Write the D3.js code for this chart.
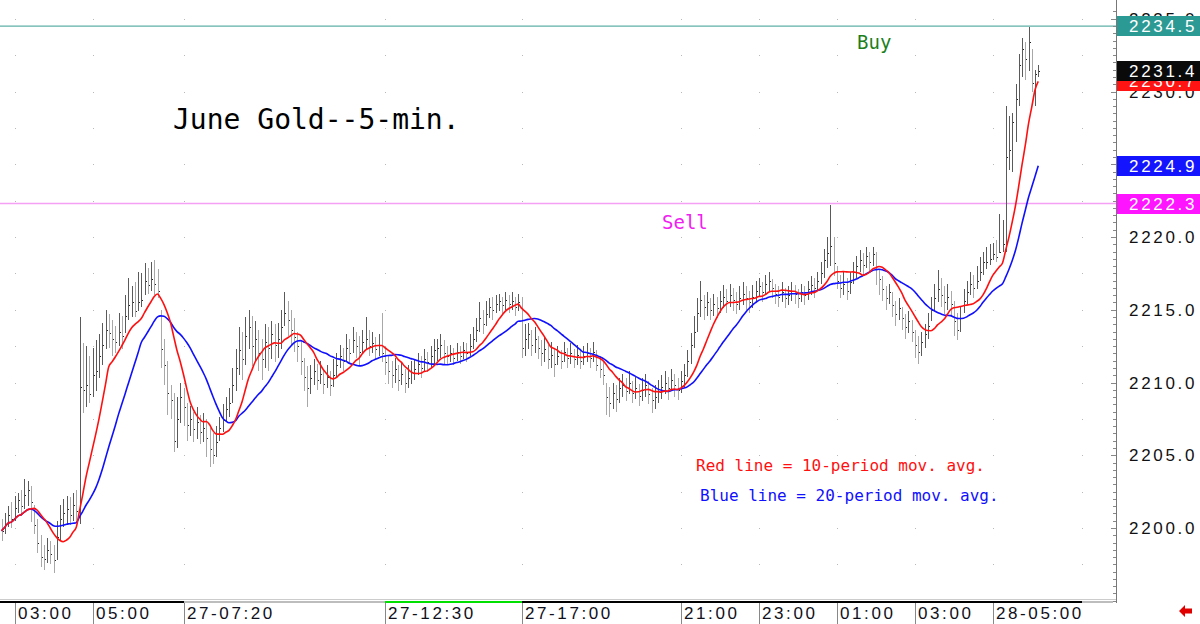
<!DOCTYPE html>
<html>
<head>
<meta charset="utf-8">
<script src="https://cdn.jsdelivr.net/npm/d3@7"></script>
<style>
  html, body { margin: 0; padding: 0; background: #fff; }
  svg { display: block; }
</style>
</head>
<body>
<svg id="chart" width="1200" height="624"></svg>
<script>
'use strict';

// 5-min bars, one row of ten bars per line
const highs = [
  2200.6, 2201.0, 2201.5, 2201.8, 2202.2, 2202.4, 2202.6, 2203.4, 2203.2, 2202.9,
  2201.6, 2200.6, 2199.5, 2198.8, 2199.3, 2199.1, 2198.8, 2200.5, 2201.6, 2202.0,
  2202.2, 2202.1, 2202.4, 2202.6, 2214.5, 2212.7, 2212.5, 2211.8, 2212.4, 2212.9,
  2213.3, 2214.1, 2215.0, 2214.7, 2214.3, 2213.9, 2214.8, 2214.6, 2216.0, 2217.2,
  2216.6, 2216.9, 2217.6, 2217.5, 2218.2, 2217.9, 2218.3, 2218.4, 2217.8, 2215.0,
  2213.0, 2211.5, 2209.8, 2209.3, 2209.0, 2210.0, 2209.6, 2208.6, 2208.4, 2208.0,
  2208.3, 2207.8, 2207.9, 2207.5, 2206.9, 2206.5, 2207.0, 2207.6, 2208.5, 2209.0,
  2209.6, 2211.0, 2212.3, 2213.8, 2213.5, 2214.5, 2215.0, 2214.6, 2214.2, 2213.6,
  2213.0, 2214.0, 2213.8, 2214.2, 2214.0, 2214.1, 2215.0, 2216.2, 2215.6, 2215.0,
  2214.4, 2213.5, 2212.8, 2211.7, 2211.1, 2211.2, 2211.6, 2211.3, 2211.5, 2210.9,
  2211.2, 2210.8, 2211.6, 2212.0, 2212.6, 2212.4, 2213.3, 2213.0, 2213.8, 2213.5,
  2213.2, 2213.6, 2214.5, 2213.6, 2213.5, 2213.1, 2213.3, 2214.8, 2212.3, 2211.8,
  2211.5, 2211.7, 2211.2, 2211.4, 2210.9, 2211.2, 2211.5, 2211.6, 2212.0, 2211.8,
  2212.3, 2212.1, 2212.5, 2213.0, 2213.0, 2213.3, 2212.9, 2212.5, 2212.6, 2212.4,
  2212.7, 2212.5, 2212.8, 2212.7, 2213.3, 2213.8, 2214.4, 2215.5, 2215.0, 2215.6,
  2215.8, 2215.9, 2216.0, 2216.1, 2215.9, 2216.2, 2216.0, 2216.2, 2215.9, 2216.1,
  2215.9, 2214.0, 2214.1, 2213.6, 2213.8, 2213.2, 2212.9, 2213.2, 2212.6, 2212.8,
  2212.3, 2212.5, 2212.2, 2212.8, 2212.4, 2212.7, 2212.3, 2212.6, 2212.2, 2212.5,
  2212.7, 2212.4, 2212.8, 2212.2, 2211.8, 2211.4, 2210.0, 2209.7, 2210.0, 2209.8,
  2210.3, 2210.6, 2210.3, 2210.8, 2210.1, 2210.4, 2209.9, 2210.3, 2210.6, 2210.1,
  2209.6, 2209.8, 2210.2, 2210.5, 2210.8, 2210.4, 2210.9, 2210.6, 2210.3, 2210.8,
  2211.3, 2212.2, 2213.4, 2214.6, 2215.8, 2217.0, 2216.0, 2216.2, 2215.8, 2216.1,
  2215.9, 2216.3, 2216.7, 2216.4, 2216.8, 2216.5, 2216.2, 2216.6, 2216.9, 2216.6,
  2216.3, 2216.7, 2217.0, 2217.2, 2216.9, 2217.4, 2217.6, 2217.1, 2216.8, 2216.6,
  2216.9, 2216.5, 2216.6, 2216.9, 2216.7, 2216.4, 2216.8, 2216.6, 2217.0, 2217.3,
  2217.2, 2217.6, 2218.3, 2219.2, 2220.0, 2222.2, 2220.0, 2218.0, 2217.4, 2217.6,
  2217.2, 2217.6, 2218.3, 2218.7, 2219.1, 2218.9, 2219.3, 2219.0, 2219.3, 2219.0,
  2217.8, 2217.3, 2216.6, 2216.8, 2216.2, 2215.6, 2215.8, 2215.2, 2214.7, 2214.9,
  2214.3, 2213.6, 2213.2, 2213.5, 2214.0, 2214.8, 2215.9, 2216.8, 2217.7, 2217.2,
  2216.6, 2216.8, 2216.3, 2215.6, 2214.8, 2215.2, 2216.4, 2217.0, 2217.6, 2217.4,
  2218.0, 2218.6, 2219.0, 2219.3, 2219.5, 2219.6, 2219.8, 2221.6, 2221.2, 2229.0,
  2228.3, 2228.5, 2230.5, 2232.6, 2233.7, 2233.4, 2234.4, 2232.9, 2231.5, 2231.8
];
const lows = [
  2199.1, 2199.6, 2200.1, 2200.0, 2200.5, 2201.0, 2200.8, 2201.3, 2201.5, 2200.4,
  2199.6, 2198.3, 2197.3, 2197.1, 2197.6, 2197.5, 2196.9, 2197.8, 2199.2, 2200.1,
  2200.3, 2200.2, 2200.5, 2200.4, 2200.3, 2207.9, 2208.3, 2208.6, 2209.0, 2209.4,
  2210.3, 2211.2, 2212.3, 2212.4, 2211.8, 2212.0, 2212.5, 2212.3, 2213.4, 2214.3,
  2214.5, 2214.5, 2214.9, 2215.2, 2216.0, 2216.1, 2216.3, 2216.0, 2215.8, 2211.0,
  2209.8, 2207.8, 2207.5, 2205.2, 2205.5, 2207.2, 2207.0, 2206.0, 2206.3, 2205.9,
  2206.1, 2205.8, 2205.9, 2204.9, 2204.2, 2204.4, 2204.9, 2206.0, 2206.6, 2207.3,
  2207.6, 2208.6, 2209.4, 2210.5, 2210.2, 2211.2, 2212.3, 2211.1, 2211.5, 2210.8,
  2210.2, 2211.0, 2210.8, 2211.6, 2211.4, 2211.7, 2212.3, 2213.9, 2213.2, 2212.6,
  2212.1, 2211.4, 2210.5, 2209.4, 2208.3, 2209.2, 2209.8, 2209.5, 2209.9, 2209.2,
  2209.6, 2209.1, 2209.7, 2210.3, 2211.0, 2210.8, 2211.5, 2211.3, 2212.0, 2211.7,
  2211.2, 2212.0, 2212.2, 2211.8, 2212.0, 2211.6, 2211.8, 2211.4, 2210.5, 2209.9,
  2209.6, 2210.0, 2209.4, 2209.8, 2209.3, 2209.6, 2209.9, 2210.2, 2210.5, 2210.3,
  2210.8, 2210.7, 2211.0, 2211.3, 2211.5, 2211.7, 2211.3, 2211.2, 2211.4, 2211.2,
  2211.5, 2211.3, 2211.6, 2211.4, 2211.8, 2212.3, 2212.8, 2213.5, 2213.3, 2213.9,
  2214.4, 2214.3, 2214.8, 2214.9, 2214.7, 2215.0, 2214.8, 2215.0, 2214.6, 2214.9,
  2211.7, 2211.8, 2212.3, 2211.8, 2212.0, 2211.6, 2211.1, 2211.4, 2210.9, 2211.0,
  2210.4, 2211.2, 2210.9, 2211.4, 2211.0, 2211.3, 2211.0, 2211.2, 2210.9, 2211.2,
  2211.4, 2211.0, 2211.4, 2210.8, 2210.3, 2209.8, 2207.8, 2207.6, 2208.2, 2208.0,
  2208.6, 2209.0, 2208.7, 2209.2, 2208.6, 2208.9, 2208.4, 2208.7, 2209.0, 2208.5,
  2207.9, 2208.2, 2208.6, 2208.9, 2209.2, 2208.8, 2209.4, 2209.0, 2208.8, 2209.3,
  2209.7, 2210.4, 2211.3, 2212.4, 2213.5, 2214.5, 2214.3, 2214.6, 2214.3, 2214.6,
  2214.4, 2214.8, 2215.1, 2214.8, 2215.2, 2214.9, 2214.7, 2215.0, 2215.3, 2215.0,
  2214.8, 2215.1, 2215.6, 2215.9, 2215.5, 2216.0, 2216.3, 2215.8, 2215.4, 2215.2,
  2215.5, 2215.1, 2215.3, 2215.6, 2215.4, 2215.1, 2215.5, 2215.3, 2215.7, 2216.0,
  2215.8, 2216.3, 2216.8, 2217.2, 2217.9, 2218.0, 2217.3, 2216.4, 2215.8, 2216.0,
  2215.7, 2216.1, 2216.8, 2217.2, 2217.6, 2217.4, 2217.9, 2217.6, 2218.0, 2216.7,
  2216.0, 2215.6, 2215.0, 2215.4, 2214.5, 2213.9, 2214.3, 2213.6, 2213.0, 2213.4,
  2212.8, 2211.7, 2211.3, 2211.8, 2212.4, 2213.0, 2214.2, 2214.9, 2215.5, 2215.2,
  2214.7, 2215.0, 2214.5, 2213.2, 2212.9, 2213.5, 2214.8, 2215.4, 2216.0, 2215.8,
  2216.4, 2217.0, 2217.4, 2217.8, 2218.1, 2218.4, 2218.3, 2218.9, 2219.0, 2219.0,
  2224.6, 2224.5, 2226.5, 2229.0, 2231.0, 2230.8, 2231.4, 2230.0, 2229.0, 2231.0
];
const closes = [
  2199.8, 2200.3, 2200.9, 2200.6, 2201.4, 2201.9, 2201.5, 2202.3, 2202.6, 2201.8,
  2200.2, 2199.0, 2198.0, 2197.9, 2198.5, 2198.2, 2197.8, 2199.4, 2200.6, 2201.0,
  2201.3, 2200.9, 2201.6, 2201.2, 2209.7, 2209.5, 2209.8, 2209.2, 2210.5, 2210.8,
  2211.8, 2212.6, 2213.6, 2213.4, 2213.0, 2212.8, 2213.5, 2213.2, 2214.6, 2215.3,
  2215.5, 2214.9, 2215.5, 2215.7, 2217.0, 2216.7, 2217.1, 2216.8, 2216.3, 2212.3,
  2211.2, 2209.3, 2208.8, 2206.0, 2207.5, 2209.0, 2208.3, 2207.1, 2207.5, 2206.8,
  2207.3, 2206.6, 2206.9, 2206.2, 2205.4, 2205.0, 2205.9, 2206.9, 2207.4, 2208.2,
  2208.6, 2209.8, 2211.0, 2212.2, 2211.6, 2213.2, 2213.8, 2212.5, 2213.0, 2212.0,
  2211.6, 2212.8, 2212.4, 2213.3, 2212.6, 2213.0, 2213.8, 2214.8, 2214.3, 2213.6,
  2213.1, 2212.5, 2211.5, 2210.4, 2209.6, 2210.3, 2210.8, 2210.2, 2210.6, 2209.9,
  2210.4, 2209.8, 2210.5, 2211.2, 2211.8, 2211.5, 2212.4, 2212.0, 2212.9, 2212.5,
  2212.1, 2212.8, 2213.0, 2212.5, 2212.7, 2212.3, 2212.6, 2212.0, 2211.4, 2210.8,
  2210.5, 2210.9, 2210.2, 2210.6, 2210.0, 2210.3, 2210.7, 2210.9, 2211.3, 2211.0,
  2211.6, 2211.4, 2211.8, 2212.2, 2212.4, 2212.6, 2212.0, 2211.8, 2212.0, 2211.7,
  2212.1, 2211.8, 2212.2, 2212.0, 2212.5, 2213.0, 2213.6, 2214.4, 2214.0, 2214.7,
  2215.2, 2215.0, 2215.4, 2215.6, 2215.3, 2215.7, 2215.4, 2215.6, 2215.2, 2215.5,
  2212.4, 2213.0, 2213.3, 2212.6, 2213.0, 2212.4, 2212.0, 2212.3, 2211.6, 2211.9,
  2211.3, 2211.8, 2211.5, 2212.1, 2211.7, 2212.0, 2211.6, 2211.9, 2211.5, 2211.8,
  2212.0, 2211.7, 2212.1, 2211.2, 2210.9, 2210.5, 2209.0, 2208.6, 2209.3, 2208.9,
  2209.6, 2209.8, 2209.4, 2210.0, 2209.3, 2209.6, 2209.1, 2209.5, 2209.8, 2209.2,
  2208.8, 2209.0, 2209.4, 2209.7, 2210.0, 2209.6, 2210.2, 2209.8, 2209.5, 2210.1,
  2210.5, 2211.5, 2212.6, 2213.5, 2214.8, 2215.7, 2215.2, 2215.5, 2215.0, 2215.4,
  2215.1, 2215.6, 2215.9, 2215.6, 2216.0, 2215.7, 2215.4, 2215.8, 2216.1, 2215.8,
  2215.5, 2215.9, 2216.3, 2216.6, 2216.2, 2216.8, 2217.0, 2216.5, 2216.1, 2215.9,
  2216.2, 2215.8, 2216.0, 2216.3, 2216.1, 2215.8, 2216.2, 2216.0, 2216.4, 2216.7,
  2216.5, 2217.0, 2217.5, 2218.4, 2218.9, 2219.4, 2218.2, 2217.0, 2216.5, 2216.8,
  2216.3, 2216.9, 2217.6, 2218.0, 2218.4, 2218.1, 2218.7, 2218.3, 2218.8, 2217.8,
  2217.1, 2216.4, 2215.8, 2216.2, 2215.3, 2214.7, 2215.1, 2214.4, 2213.8, 2214.2,
  2213.5, 2212.6, 2212.1, 2212.8, 2213.3, 2213.9, 2215.0, 2215.8, 2216.4, 2216.0,
  2215.5, 2215.9, 2215.4, 2214.2, 2213.6, 2214.4, 2215.6, 2216.2, 2216.8, 2216.5,
  2217.0, 2217.6, 2218.3, 2218.3, 2218.5, 2218.8, 2218.6, 2219.0, 2219.5, 2225.5,
  2226.0, 2227.9, 2229.5, 2231.8, 2232.9, 2232.2, 2233.4, 2230.6, 2231.2, 2231.4
];

// time axis labels and the bar they sit on
const timeLabels = ['03:00', '05:00', '27-07:20', '27-12:30', '27-17:00',
  '21:00', '23:00', '01:00', '03:00', '28-05:00'];
const timeLabelBars = [4, 28, 56, 118, 160, 209, 233, 257, 281, 305];

// session strip along the top of the time axis
const sessionStarts = [-0.5, 56, 118, 160, 332.5];
const sessionEnds = [56, 118, 160, 332.5, 342];
const sessionColors = ['#000', '#bdbdbd', '#00e000', '#000', '#bdbdbd'];

const priceTicks = [2200, 2205, 2210, 2215, 2220, 2225, 2230, 2235];
const buyLevel = 2234.5;
const sellLevel = 2222.3;

const svg = d3.select('#chart');
const W = 1200;
const plotRight = 1116;
const plotBottom = 601;

const x = d3.scaleLinear().domain([0, 320]).range([1.5, 1041.5]);
const y = d3.scaleLinear().domain([2200, 2235]).range([528, 528 - 35 * 14.55]);

/**
 * Simple moving average, shorter window at the start
 */
function movingAverage(values, n) {
  return values.map(function(d, i) {
    const win = values.slice(Math.max(0, i - n + 1), i + 1);
    return d3.mean(win);
  });
}
const ma10 = movingAverage(closes, 10);
const ma20 = movingAverage(closes, 20);

const plot = svg.append('g');

// dotted vertical grid at the time labels
const gridPrices = d3.range(2195, 2236, 2.5);
timeLabelBars.concat([332.5]).forEach(function(b) {
  plot.selectAll(null)
    .data(gridPrices)
    .enter()
    .append('rect')
    .attr('x', Math.round(x(b)))
    .attr('y', function(d) { return Math.round(y(d)); })
    .attr('width', 1)
    .attr('height', 1)
    .attr('fill', '#b8b8b8');
});

// buy / sell levels
plot.append('line')
  .attr('x1', 0).attr('x2', plotRight)
  .attr('y1', y(buyLevel)).attr('y2', y(buyLevel))
  .attr('stroke', '#5fb0a8').attr('stroke-width', 1.2);
plot.append('line')
  .attr('x1', 0).attr('x2', plotRight)
  .attr('y1', y(sellLevel)).attr('y2', y(sellLevel))
  .attr('stroke', '#f4a0f4').attr('stroke-width', 1.5);

// OHLC bars (high-low plus close tick)
const bars = plot.append('g').attr('shape-rendering', 'crispEdges');
bars.selectAll('line.hl')
  .data(closes)
  .enter()
  .append('line')
  .attr('class', 'hl')
  .attr('x1', function(d, i) { return Math.round(x(i)) + 0.5; })
  .attr('x2', function(d, i) { return Math.round(x(i)) + 0.5; })
  .attr('y1', function(d, i) { return y(highs[i]); })
  .attr('y2', function(d, i) { return y(lows[i]); })
  .attr('stroke', function(d, i) {
    return i > 0 && d >= closes[i - 1] ? '#5a5a5a' : '#a8a8a8';
  })
  .attr('stroke-width', 1);
bars.selectAll('rect.tick')
  .data(closes)
  .enter()
  .append('rect')
  .attr('class', 'tick')
  .attr('x', function(d, i) { return Math.round(x(i)) + 1; })
  .attr('y', function(d) { return Math.round(y(d)); })
  .attr('width', 1)
  .attr('height', 1)
  .attr('fill', '#222');

// moving averages
const line = d3.line()
  .x(function(d, i) { return x(i); })
  .y(function(d) { return y(d); })
  .curve(d3.curveMonotoneX);
plot.append('path')
  .attr('d', line(ma20))
  .attr('fill', 'none')
  .attr('stroke', '#1010ff')
  .attr('stroke-width', 1.6);
plot.append('path')
  .attr('d', line(ma10))
  .attr('fill', 'none')
  .attr('stroke', '#ff1010')
  .attr('stroke-width', 1.6);

// annotations
const mono = '"DejaVu Sans Mono", "Liberation Mono", monospace';
svg.append('text')
  .attr('x', 173).attr('y', 129)
  .attr('font-family', mono).attr('font-size', 28)
  .attr('fill', '#000')
  .text('June Gold--5-min.');
svg.append('text')
  .attr('x', 857).attr('y', 49)
  .attr('font-family', mono).attr('font-size', 19)
  .attr('fill', '#1c7f1c')
  .text('Buy');
svg.append('text')
  .attr('x', 662).attr('y', 229)
  .attr('font-family', mono).attr('font-size', 19)
  .attr('fill', '#f020f0')
  .text('Sell');
svg.append('text')
  .attr('x', 696).attr('y', 471)
  .attr('font-family', mono).attr('font-size', 16)
  .attr('fill', '#ff1010')
  .text('Red line = 10-period mov. avg.');
svg.append('text')
  .attr('x', 700).attr('y', 501)
  .attr('font-family', mono).attr('font-size', 16)
  .attr('fill', '#1010ff')
  .text('Blue line = 20-period mov. avg.');

// right price axis
const sans = '"Liberation Sans", Arial, sans-serif';
const axisG = svg.append('g').attr('shape-rendering', 'crispEdges');
axisG.append('line')
  .attr('x1', plotRight + 0.5).attr('x2', plotRight + 0.5)
  .attr('y1', 0).attr('y2', plotBottom + 2)
  .attr('stroke', '#777');
axisG.selectAll('line.minor')
  .data(d3.range(2195, 2236, 0.5))
  .enter()
  .append('line')
  .attr('class', 'minor')
  .attr('x1', function(d) { return d % 5 === 0 ? plotRight - 5 : plotRight - 3; })
  .attr('x2', plotRight)
  .attr('y1', function(d) { return Math.round(y(d)) + 0.5; })
  .attr('y2', function(d) { return Math.round(y(d)) + 0.5; })
  .attr('stroke', '#888');
svg.selectAll('text.price')
  .data(priceTicks)
  .enter()
  .append('text')
  .attr('class', 'price')
  .attr('x', 1129)
  .attr('y', function(d) { return y(d) + 6; })
  .attr('font-family', sans).attr('font-size', 17)
  .attr('letter-spacing', 2.7)
  .attr('fill', '#111')
  .text(function(d) { return d.toFixed(1); });

// value flags on the right
const last = closes.length - 1;
const flags = [
  {v: buyLevel, c: '#2c9a94'},
  {v: sellLevel, c: '#ff14ff'},
  {v: ma20[last], c: '#1414ff'},
  {v: ma10[last], c: '#ff1414'},
  {v: closes[last], c: '#0a0a0a'}
];
const flagG = svg.selectAll('g.flag')
  .data(flags)
  .enter()
  .append('g')
  .attr('class', 'flag');
flagG.append('rect')
  .attr('x', 1117).attr('width', W - 1117)
  .attr('y', function(d) { return Math.round(y(d.v)) - 10; })
  .attr('height', 20)
  .attr('fill', function(d) { return d.c; });
flagG.append('text')
  .attr('x', 1129)
  .attr('y', function(d) { return Math.round(y(d.v)) + 6; })
  .attr('font-family', sans).attr('font-size', 17)
  .attr('letter-spacing', 2.7)
  .attr('fill', '#fff')
  .text(function(d) { return d.v.toFixed(1); });

// time axis
const timeG = svg.append('g').attr('shape-rendering', 'crispEdges');
timeG.append('line')
  .attr('x1', 0).attr('x2', plotRight)
  .attr('y1', plotBottom - 1.5).attr('y2', plotBottom - 1.5)
  .attr('stroke', '#ccc');
timeG.selectAll('rect.session')
  .data(sessionColors)
  .enter()
  .append('rect')
  .attr('class', 'session')
  .attr('x', function(d, i) { return Math.max(0, x(sessionStarts[i])); })
  .attr('width', function(d, i) {
    return x(sessionEnds[i]) - Math.max(0, x(sessionStarts[i]));
  })
  .attr('y', plotBottom)
  .attr('height', 2)
  .attr('fill', function(d) { return d; });
timeG.selectAll('line.sep')
  .data(timeLabelBars)
  .enter()
  .append('line')
  .attr('class', 'sep')
  .attr('x1', function(d) { return Math.round(x(d)) + 0.5; })
  .attr('x2', function(d) { return Math.round(x(d)) + 0.5; })
  .attr('y1', plotBottom + 2).attr('y2', 624)
  .attr('stroke', '#888');
svg.selectAll('text.time')
  .data(timeLabels)
  .enter()
  .append('text')
  .attr('class', 'time')
  .attr('x', function(d, i) { return Math.round(x(timeLabelBars[i])) + 3; })
  .attr('y', 619)
  .attr('font-family', sans).attr('font-size', 17)
  .attr('letter-spacing', 2.6)
  .attr('fill', '#10101a')
  .text(function(d) { return d; });

// little red arrow in the corner
svg.append('path')
  .attr('d', 'M1179,611 L1185,605 L1185,608.5 L1192,608.5 L1192,613.5 L1185,613.5 L1185,617 Z')
  .attr('fill', '#e00000');
</script>
</body>
</html>
